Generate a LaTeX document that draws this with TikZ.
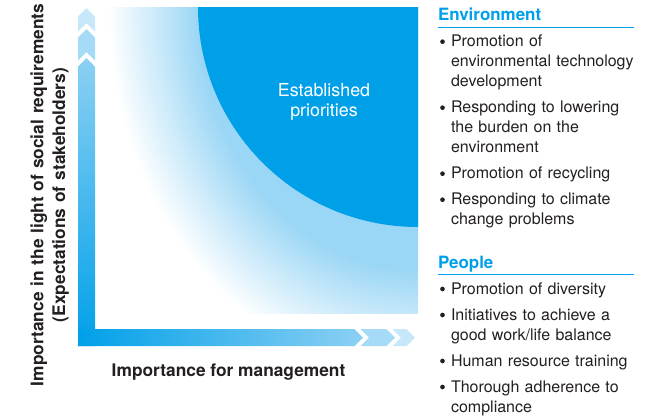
\documentclass[tikz,border=0pt]{standalone}
\usepackage{fontspec}
\setmainfont{TeX Gyre Heros}
\usepackage{xcolor}

\definecolor{prioblue}{HTML}{00A0E9}
\definecolor{ringblue}{HTML}{9AD6F5}
\definecolor{barlight}{HTML}{8CD0F3}
\definecolor{chevmid}{HTML}{A5DBF6}
\definecolor{chevpale}{HTML}{C6E8FA}
\definecolor{bodytext}{HTML}{231F20}

\pgfdeclareradialshading{priofade}{\pgfpoint{0bp}{0bp}}{color(0bp)=(ringblue); color(17.7bp)=(ringblue); color(21.3bp)=(ringblue!50); color(25bp)=(white); color(50bp)=(white)}

\begin{document}
\begin{tikzpicture}[x=0.75pt, y=-0.75pt,
    every node/.style={inner sep=0pt, outer sep=0pt},
    axislabel/.style={text=bodytext, font=\fontsize{13}{16.3}\selectfont\bfseries, align=center},
    head/.style={anchor=base west, text=prioblue, font=\fontsize{12.7}{15}\selectfont\bfseries},
    item/.style={anchor=base west, text=bodytext, text width=150pt, align=left, font=\fontsize{12}{15}\selectfont},
    dot/.style={circle, fill=bodytext, minimum size=3.5pt}]
    \useasboundingbox (0,0) rectangle (672,418);

    % fading field and the priority zone
    \begin{scope}
        \clip (104,7) rectangle (418,313);
        \shade[shading=priofade] (418,7) ellipse (310 and 370);
        \fill[prioblue] (418,7) circle (220);
    \end{scope}
    \node[white, font=\fontsize{13.4}{15}\selectfont, text width=100pt, align=center, anchor=base] (prio) at (324,96.7) {Established\\priorities};

    % axes
    \shade[bottom color=prioblue, top color=barlight] (78,346) -- (95,346) -- (95,66.5) -- (86.5,58) -- (78,66.5) -- cycle;
    \shade[left color=prioblue, right color=barlight] (78,329) -- (354.5,329) -- (363,337.5) -- (354.5,346) -- (78,346) -- cycle;
    \foreach \back/\tip/\col in {60.5/29/chevmid, 31.5/8/chevpale} {
        \fill[\col] (78,\back) -- (86.5,{\back-8.5}) -- (95,\back) -- (95,{\tip+8.5}) -- (86.5,\tip) -- (78,{\tip+8.5}) -- cycle;
    }
    \foreach \back/\tip/\col in {360.5/395/chevmid, 392.5/415/chevpale} {
        \fill[\col] (\back,329) -- ({\tip-8.5},329) -- (\tip,337.5) -- ({\tip-8.5},346) -- (\back,346) -- ({\back+8.5},337.5) -- cycle;
    }
    \node[axislabel, rotate=90, text width=300pt, anchor=base] (yaxis) at (43.3,195) {Importance in the light of social requirements\\(Expectations of stakeholders)};
    \node[axislabel, anchor=base] (xaxis) at (228.5,376.7) {Importance for management};

    % lists
    \node[head] (env) at (438,20) {Environment};
    \draw[prioblue, line width=0.75pt] (438,27.5) -- (634,27.5);
    \foreach \name/\y/\txt in {envA/46.7/{Promotion of\\environmental technology\\development},
                               envB/112.7/{Responding to lowering\\the burden on the\\environment},
                               envC/178.7/{Promotion of recycling},
                               envD/204.7/{Responding to climate\\change problems}} {
        \node[dot] (\name-dot) at (442.5,{\y-5}) {};
        \node[item] (\name) at (451,\y) {\txt};
    }
    \node[head] (people) at (438,268) {People};
    \draw[prioblue, line width=0.75pt] (438,274.5) -- (634,274.5);
    \foreach \name/\y/\txt in {pplA/294/{Promotion of diversity},
                               pplB/320/{Initiatives to achieve a\\good work/life balance},
                               pplC/366/{Human resource training},
                               pplD/392/{Thorough adherence to\\compliance}} {
        \node[dot] (\name-dot) at (442.5,{\y-5}) {};
        \node[item] (\name) at (451,\y) {\txt};
    }
\end{tikzpicture}
\end{document}
